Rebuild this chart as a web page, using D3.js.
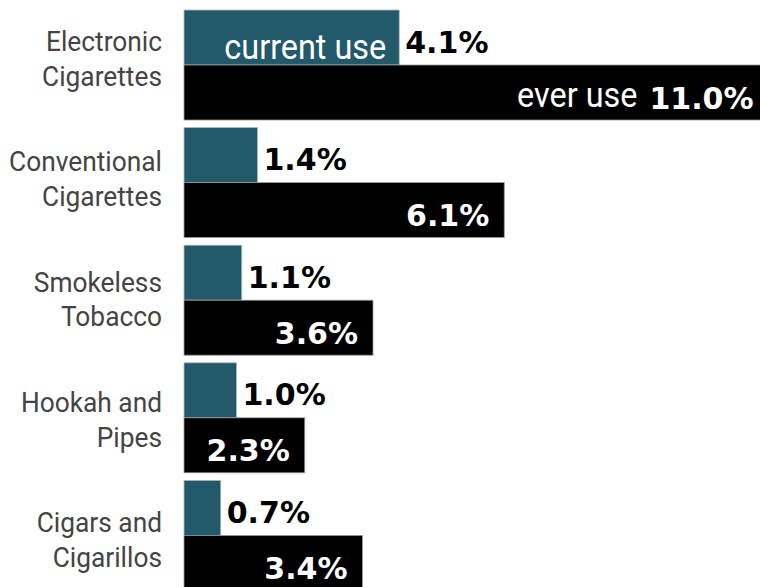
<html>
<head>
<script src="https://cdnjs.cloudflare.com/ajax/libs/d3/7.8.5/d3.min.js"></script>
<style>
  body { margin: 0; background: #fff; }
</style>
</head>
<body>
<div id="chart"></div>
<script>
    // data
    var categories = ["Electronic Cigarettes", "Conventional Cigarettes", "Smokeless Tobacco", "Hookah and Pipes", "Cigars and Cigarillos"];
    var labelLines = [["Electronic", "Cigarettes"], ["Conventional", "Cigarettes"], ["Smokeless", "Tobacco"], ["Hookah and", "Pipes"], ["Cigars and", "Cigarillos"]];
    var currentUse = [4.1, 1.4, 1.1, 1.0, 0.7];
    var everUse = [11.0, 6.1, 3.6, 2.3, 3.4];
    var seriesNames = ["current use", "ever use"];

    var width = 760;
    var height = 587;

    var svg = d3.select('#chart').append('svg').attr('width', width).attr('height', height);

    var x = d3.scaleLinear().domain([0, 11]).range([184, 761.5]);
    var y = d3.scaleBand().domain(categories).range([10, 590.4]).paddingInner(0.0646).paddingOuter(0);
    var sub = d3.scaleBand().domain(seriesNames).range([0, y.bandwidth()]);
    // category labels sit on their own slightly wider spacing
    var labelY = d3.scalePoint().domain(categories).range([51, 532]);
    var fmt = function(v) { return d3.format('.1f')(v) + '%'; };

    var rows = categories.map(function(c, i) {
        return {cat: c, lines: labelLines[i], current: currentUse[i], ever: everUse[i], i: i};
    });

    var g = svg.selectAll('g.row').data(rows).enter().append('g')
        .attr('class', 'row')
        .attr('transform', function(d) { return `translate(0,${y(d.cat)})`; });

    // current use bars
    g.append('rect')
        .attr('x', x(0))
        .attr('y', sub('current use'))
        .attr('width', function(d) { return x(d.current) - x(0); })
        .attr('height', sub.bandwidth())
        .attr('fill', '#225a6c')
        .attr('stroke', '#b0b8bc')
        .attr('stroke-width', 0.8);

    // ever use bars
    g.append('rect')
        .attr('x', x(0))
        .attr('y', sub('ever use'))
        .attr('width', function(d) { return x(d.ever) - x(0); })
        .attr('height', sub.bandwidth())
        .attr('fill', '#000')
        .attr('stroke', '#999')
        .attr('stroke-width', 0.8);

    // value labels: current outside, ever inside
    g.append('text')
        .attr('x', function(d) { return x(d.current) + 6; })
        .attr('y', sub('current use') + sub.bandwidth() - 12.5)
        .style('font-family', 'DejaVu Sans')
        .style('font-weight', 'bold')
        .style('font-size', '30px')
        .attr('fill', '#000')
        .text(function(d) { return fmt(d.current); });

    g.append('text')
        .attr('x', function(d) { return x(d.ever) - (d.i == 0 ? 8 : 15); })
        .attr('y', sub('ever use') + sub.bandwidth() - 11.5)
        .attr('text-anchor', 'end')
        .style('font-family', 'DejaVu Sans')
        .style('font-weight', 'bold')
        .style('font-size', '30px')
        .attr('fill', '#fff')
        .text(function(d) { return fmt(d.ever); });

    // series names inside the first group
    var first = rows[0];
    svg.append('text')
        .attr('transform', `translate(${x(first.current) - 13},${y(first.cat) + sub('current use') + sub.bandwidth() - 6.5}) scale(0.9,1)`)
        .attr('text-anchor', 'end')
        .style('font-family', 'Roboto')
        .style('font-size', '36px')
        .attr('fill', '#fff')
        .text(seriesNames[0]);
    svg.append('text')
        .attr('transform', `translate(${x(first.ever) - 124},${y(first.cat) + sub('ever use') + sub.bandwidth() - 13}) scale(0.9,1)`)
        .attr('text-anchor', 'end')
        .style('font-family', 'Roboto')
        .style('font-size', '36px')
        .attr('fill', '#fff')
        .text(seriesNames[1]);

    // category labels
    rows.forEach(function(d) {
        var lbl = svg.append('g')
            .attr('transform', `translate(162,${labelY(d.cat)}) scale(0.94,1)`);
        lbl.selectAll('text').data(d.lines).enter().append('text')
            .attr('x', 0)
            .attr('y', function(t, k) { return k * 35; })
            .attr('text-anchor', 'end')
            .style('font-family', 'Roboto')
            .style('font-size', '28px')
            .attr('fill', '#444')
            .text(function(t) { return t; });
    });
</script>
</body>
</html>
